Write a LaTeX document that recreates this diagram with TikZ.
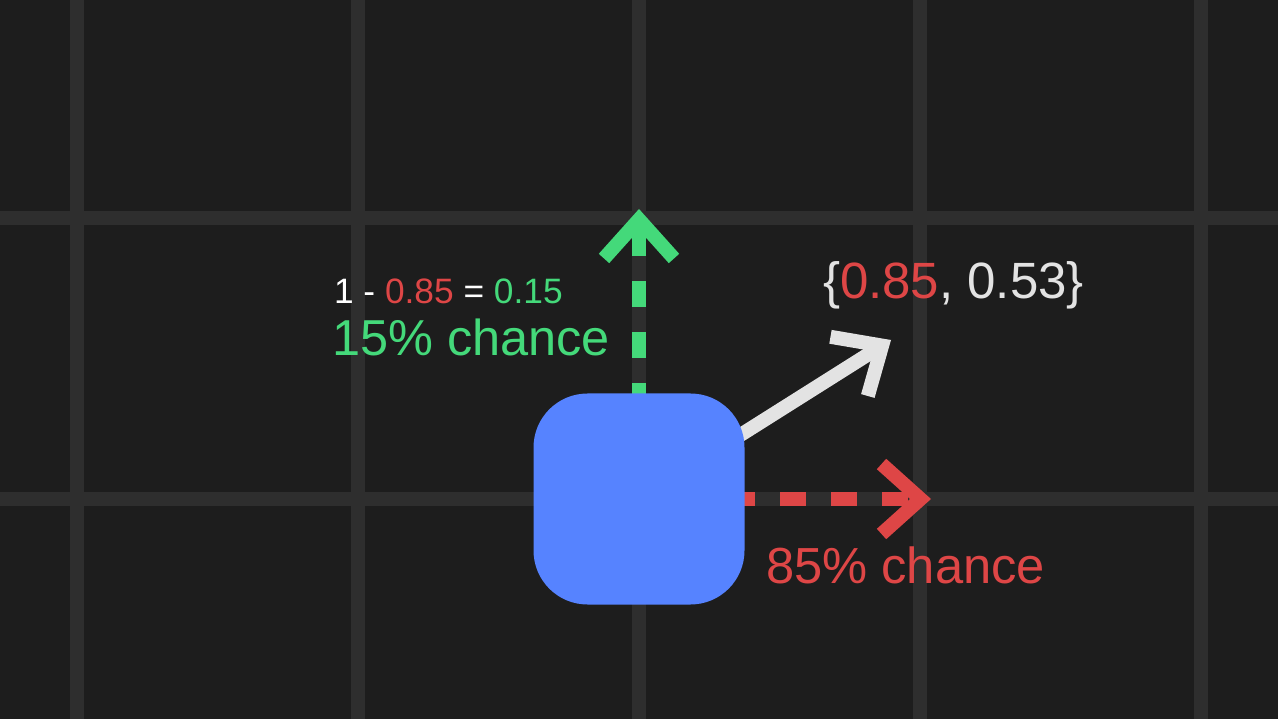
\documentclass[tikz,border=0pt]{standalone}
\usepackage{fontspec}
\setmainfont{Liberation Sans}
\usetikzlibrary{arrows.meta}
\definecolor{bg}{HTML}{1D1D1D}
\definecolor{gridgray}{HTML}{2E2E2E}
\definecolor{agentblue}{HTML}{5683FF}
\definecolor{chancegreen}{HTML}{44D97A}
\definecolor{chancered}{HTML}{DE4646}
\definecolor{vecwhite}{HTML}{E3E3E3}

\begin{document}
\begin{tikzpicture}[x=1pt,y=-1pt,line width=14pt,
  barb/.tip={Straight Barb[length=39pt,width=70pt]},
  chancearrow/.style={-barb,dash pattern=on 25.5pt off 25.5pt,dash phase=12pt},
  agent/.style={fill=agentblue,draw=none,minimum size=211pt,inner sep=0pt,rounded corners=54pt},
  txt/.style={anchor=base west,inner sep=0pt}]
\useasboundingbox (0,0) rectangle (1278,719);
\fill[bg] (0,0) rectangle (1278,719);
% grid
\draw[gridgray] (77,0) -- (77,719);
\draw[gridgray] (358,0) -- (358,719);
\draw[gridgray] (639,0) -- (639,719);
\draw[gridgray] (920,0) -- (920,719);
\draw[gridgray] (1201,0) -- (1201,719);
\draw[gridgray] (0,218) -- (1278,218);
\draw[gridgray] (0,499) -- (1278,499);
% arrows
\coordinate (origin) at (639,499);
\coordinate (up) at (639,209);
\coordinate (right) at (931,499);
\coordinate (vec) at (891,340);
\draw[chancegreen,chancearrow] (origin) -- (up);
\draw[chancered,chancearrow] (origin) -- (right);
\draw[vecwhite,-barb] (origin) -- (vec);
\node[agent] (agent) at (origin) {};
% labels
\node[txt,white,font=\fontsize{35.3}{42}\selectfont] (calc) at (327,304)
  {1 - \textcolor{chancered}{0.85} = \textcolor{chancegreen}{0.15}};
\node[txt,chancegreen,font=\fontsize{50.5}{60}\selectfont] (upchance) at (325,356) {15\% chance};
\node[txt,chancered,font=\fontsize{50.7}{60}\selectfont] (rightchance) at (759,583) {85\% chance};
\node[txt,vecwhite,font=\fontsize{51}{60}\selectfont] (vecval) at (816,299)
  {\{\textcolor{chancered}{0.85}, 0.53\}};
\end{tikzpicture}
\end{document}
